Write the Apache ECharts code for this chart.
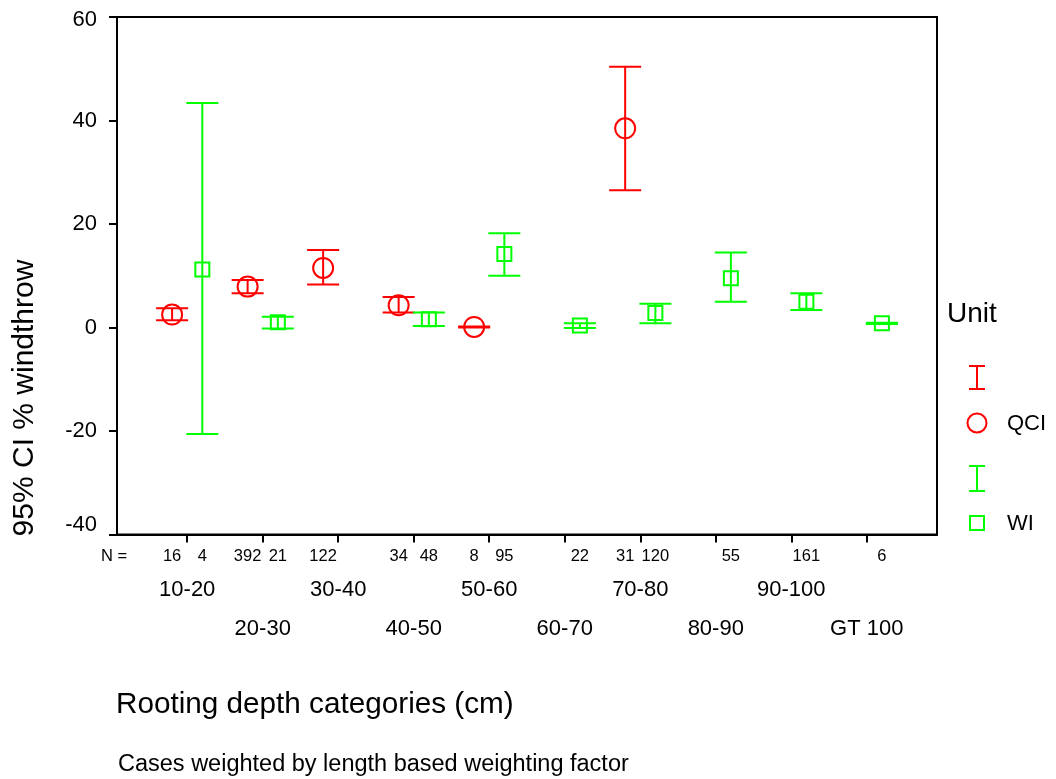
<!DOCTYPE html>
<html>
<head>
<meta charset="utf-8">
<script src="https://cdn.jsdelivr.net/npm/echarts@6/dist/echarts.min.js"></script>
<style>
  html, body { margin: 0; padding: 0; background: #fff; }
  #chart { width: 1056px; height: 779px; }
</style>
</head>
<body>
<div id="chart"></div>
<script>
// Rooting depth categories
var categories = ['10-20', '20-30', '30-40', '40-50', '50-60', '60-70', '70-80', '80-90', '90-100', 'GT 100'];

// QCI unit: mean and 95% CI bounds (% windthrow), case counts
var qciMean = [2.5, 7.9, 11.5, 4.3, 0.1, null, 38.5, null, null, null];
var qciLow  = [1.4, 6.6, 8.3, 2.9, 0.0, null, 26.5, null, null, null];
var qciHigh = [3.7, 9.2, 15.0, 5.9, 0.2, null, 50.4, null, null, null];
var qciN    = [16, 392, 122, 34, 8, null, 31, null, null, null];

// WI unit: mean and 95% CI bounds (% windthrow), case counts
var wiMean = [11.2, 1.0, null, 1.6, 14.2, 0.4, 2.8, 9.5, 5.0, 0.8];
var wiLow  = [-20.6, -0.2, null, 0.3, 10.0, -0.1, 0.8, 5.0, 3.4, 0.7];
var wiHigh = [43.4, 2.1, null, 2.9, 18.2, 0.8, 4.6, 14.5, 6.6, 0.9];
var wiN    = [4, 21, null, 48, 95, 22, 120, 55, 161, 6];

// Value axis ticks
var yTicks = [-40, -20, 0, 20, 40, 60];

var RED = '#ff0000';
var GREEN = '#00ff00';
var FONT = 'Liberation Sans, Arial, Helvetica, sans-serif';
var DODGE = 0.2;

function buildItems(mean, low, high, n, shift) {
  var out = [];
  for (var i = 0; i < categories.length; i++) {
    if (mean[i] == null) continue;
    out.push([i + 1 + shift, low[i], mean[i], high[i], n[i]]);
  }
  return out;
}

var qciItems = buildItems(qciMean, qciLow, qciHigh, qciN, -DODGE);
var wiItems = buildItems(wiMean, wiLow, wiHigh, wiN, DODGE);

function errorBarRenderer(color, marker) {
  return function (params, api) {
    var x = api.value(0);
    var pLo = api.coord([x, api.value(1)]);
    var pM = api.coord([x, api.value(2)]);
    var pHi = api.coord([x, api.value(3)]);
    var half = 16;
    var line = { stroke: color, lineWidth: 2 };
    var children = [
      { type: 'line', shape: { x1: pLo[0], y1: pLo[1], x2: pHi[0], y2: pHi[1] }, style: line },
      { type: 'line', shape: { x1: pLo[0] - half, y1: pLo[1], x2: pLo[0] + half, y2: pLo[1] }, style: line },
      { type: 'line', shape: { x1: pHi[0] - half, y1: pHi[1], x2: pHi[0] + half, y2: pHi[1] }, style: line }
    ];
    if (marker === 'circle') {
      children.push({ type: 'circle', shape: { cx: pM[0], cy: pM[1], r: 10 },
        style: { fill: 'none', stroke: color, lineWidth: 2 } });
    } else {
      children.push({ type: 'rect', shape: { x: pM[0] - 7, y: pM[1] - 7, width: 14, height: 14 },
        style: { fill: 'none', stroke: color, lineWidth: 2 } });
    }
    return { type: 'group', children: children };
  };
}

// Case counts printed under the axis, one per plotted unit
function countRenderer(params, api) {
  var x = api.value(0);
  var p = api.coord([x, yTicks[0]]);
  return {
    type: 'text',
    style: {
      x: p[0], y: p[1] + 22, text: String(api.value(4)),
      fill: '#000', font: '16.5px ' + FONT, align: 'center', verticalAlign: 'middle'
    }
  };
}

var chart = echarts.init(document.getElementById('chart'), null, { renderer: 'canvas' });

chart.setOption({
  backgroundColor: '#fff',
  animation: false,
  grid: {
    left: 117, top: 17, width: 820, height: 517.5,
    show: true, borderColor: '#000', borderWidth: 2, backgroundColor: 'transparent'
  },
  xAxis: {
    type: 'value',
    min: 0.07, max: 10.93,
    axisLine: { show: true, onZero: false, lineStyle: { color: '#000', width: 2 } },
    axisTick: { show: true, customValues: [1, 2, 3, 4, 5, 6, 7, 8, 9, 10], length: 8,
      lineStyle: { color: '#000', width: 2 } },
    axisLabel: {
      customValues: [1, 2, 3, 4, 5, 6, 7, 8, 9, 10],
      formatter: function (v) {
        var i = Math.round(v) - 1;
        return i % 2 ? '\n' + categories[i] : categories[i];
      },
      fontSize: 22, fontFamily: FONT, color: '#000', lineHeight: 39, margin: 36
    },
    splitLine: { show: false }
  },
  yAxis: {
    type: 'value',
    min: yTicks[0], max: yTicks[yTicks.length - 1], interval: 20,
    axisLine: { show: true, lineStyle: { color: '#000', width: 2 } },
    axisTick: { show: true, length: 8, lineStyle: { color: '#000', width: 2 } },
    axisLabel: {
      fontSize: 22, fontFamily: FONT, color: '#000', margin: 20,
      formatter: function (v) {
        if (v === yTicks[0]) return '{lo|' + v + '}';
        if (v === yTicks[yTicks.length - 1]) return '{hi|' + v + '}';
        return String(v);
      },
      rich: {
        lo: { fontSize: 22, fontFamily: FONT, color: '#000', padding: [0, 0, 19, 0] },
        hi: { fontSize: 22, fontFamily: FONT, color: '#000', padding: [6, 0, 0, 0] }
      }
    },
    splitLine: { show: false }
  },
  series: [
    { name: 'QCI', type: 'custom', renderItem: errorBarRenderer(RED, 'circle'),
      data: qciItems, encode: { x: 0, y: [1, 2, 3] }, z: 3 },
    { name: 'WI', type: 'custom', renderItem: errorBarRenderer(GREEN, 'rect'),
      data: wiItems, encode: { x: 0, y: [1, 2, 3] }, z: 3 },
    { name: 'QCI N', type: 'custom', renderItem: countRenderer, clip: false,
      data: qciItems, encode: { x: 0, y: 1 }, silent: true },
    { name: 'WI N', type: 'custom', renderItem: countRenderer, clip: false,
      data: wiItems, encode: { x: 0, y: 1 }, silent: true }
  ],
  graphic: [
    // Count row caption
    { type: 'text', left: 101, top: 548,
      style: { text: 'N =', font: '16.5px ' + FONT, fill: '#000' } },
    // Axis titles and footnote
    { type: 'text', x: 25, y: 398, rotation: Math.PI / 2,
      style: { text: '95% CI % windthrow', font: '30px ' + FONT, fill: '#000',
        align: 'center', verticalAlign: 'middle' } },
    { type: 'text', x: 116, y: 705,
      style: { text: 'Rooting depth categories (cm)', font: '29.7px ' + FONT, fill: '#000',
        align: 'left', verticalAlign: 'middle' } },
    { type: 'text', x: 118, y: 765,
      style: { text: 'Cases weighted by length based weighting factor', font: '23.5px ' + FONT,
        fill: '#000', align: 'left', verticalAlign: 'middle' } },
    // Legend
    { type: 'text', x: 947, y: 314,
      style: { text: 'Unit', font: '28px ' + FONT, fill: '#000', align: 'left', verticalAlign: 'middle' } },
    { type: 'group', children: [
      { type: 'line', shape: { x1: 977, y1: 366, x2: 977, y2: 389 }, style: { stroke: RED, lineWidth: 2 } },
      { type: 'line', shape: { x1: 969, y1: 366, x2: 985, y2: 366 }, style: { stroke: RED, lineWidth: 2 } },
      { type: 'line', shape: { x1: 969, y1: 389, x2: 985, y2: 389 }, style: { stroke: RED, lineWidth: 2 } },
      { type: 'circle', shape: { cx: 977, cy: 423, r: 9.5 }, style: { fill: 'none', stroke: RED, lineWidth: 2 } },
      { type: 'line', shape: { x1: 977, y1: 466, x2: 977, y2: 491 }, style: { stroke: GREEN, lineWidth: 2 } },
      { type: 'line', shape: { x1: 969, y1: 466, x2: 985, y2: 466 }, style: { stroke: GREEN, lineWidth: 2 } },
      { type: 'line', shape: { x1: 969, y1: 491, x2: 985, y2: 491 }, style: { stroke: GREEN, lineWidth: 2 } },
      { type: 'rect', shape: { x: 970, y: 516, width: 14, height: 14 }, style: { fill: 'none', stroke: GREEN, lineWidth: 2 } }
    ] },
    { type: 'text', x: 1007, y: 424,
      style: { text: 'QCI', font: '22px ' + FONT, fill: '#000', align: 'left', verticalAlign: 'middle' } },
    { type: 'text', x: 1007, y: 524,
      style: { text: 'WI', font: '22px ' + FONT, fill: '#000', align: 'left', verticalAlign: 'middle' } }
  ]
});
</script>
</body>
</html>
